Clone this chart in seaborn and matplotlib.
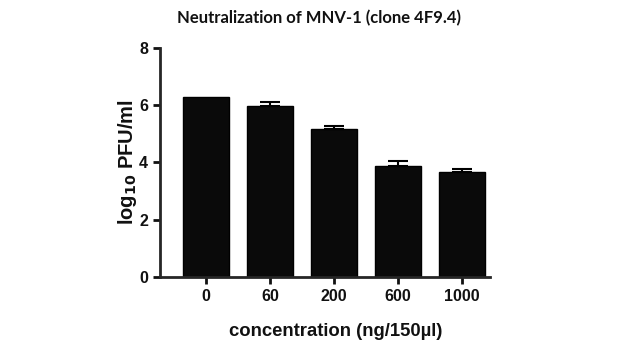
import matplotlib
matplotlib.use("Agg")
import matplotlib.pyplot as plt
import seaborn as sns
import pandas as pd
import numpy as np

concentrations = ["0", "60", "200", "600", "1000"]
log_pfu = [6.30, 5.98, 5.16, 3.89, 3.68]
sem = [0.0, 0.14, 0.12, 0.15, 0.08]
y_ticks = [0, 2, 4, 6, 8]

sns.set_theme(style="ticks")
plt.rcParams['font.family'] = ['Liberation Sans', 'DejaVu Sans']

df = pd.DataFrame({"conc": concentrations, "val": log_pfu})

fig = plt.figure(figsize=(6.39, 3.6), dpi=100)
ax = fig.add_axes([0.25, 0.231, 0.517, 0.636])
sns.barplot(data=df, x="conc", y="val", color="black", width=0.72,
            edgecolor="black", ax=ax, errorbar=None, saturation=1)
for p in ax.patches:
    p.set_facecolor("#0a0a0a")
idx = [i for i, s in enumerate(sem) if s > 0]
ax.errorbar([i for i in idx], [log_pfu[i] for i in idx],
            yerr=[np.zeros(len(idx)), [sem[i] for i in idx]], fmt="none",
            ecolor="black", elinewidth=1.5, capsize=7, capthick=1.5)
ax.set_xlim(-0.72, 4.44)
ax.set_ylim(0, 8)
ax.set_yticks(y_ticks)
for s in ["top", "right"]:
    ax.spines[s].set_visible(False)
for s in ["left", "bottom"]:
    ax.spines[s].set_linewidth(2)
ax.tick_params(axis="both", width=2, length=5, direction="out",
               labelsize=11.5, colors="#111111")
for lab in ax.get_xticklabels() + ax.get_yticklabels():
    lab.set_fontweight("bold")
ax.set_xlabel("concentration (ng/150\u00b5l)", fontsize=13.3, fontweight="bold",
              color="#111111")
ax.xaxis.set_label_coords(0.533, -0.24)
ax.xaxis.label.set_va("center")
ax.set_ylabel("log$_{\\mathbf{10}}$ PFU/ml", fontsize=14.5, fontweight="bold",
              labelpad=0, color="#111111")
fig.text(0.499, 0.95, "Neutralization of MNV-1 (clone 4F9.4)", ha="center",
         va="center", fontsize=12, fontweight="bold", family=["Lato", "DejaVu Sans"],
         color="#111111")
fig.savefig("out.png", dpi=100)
